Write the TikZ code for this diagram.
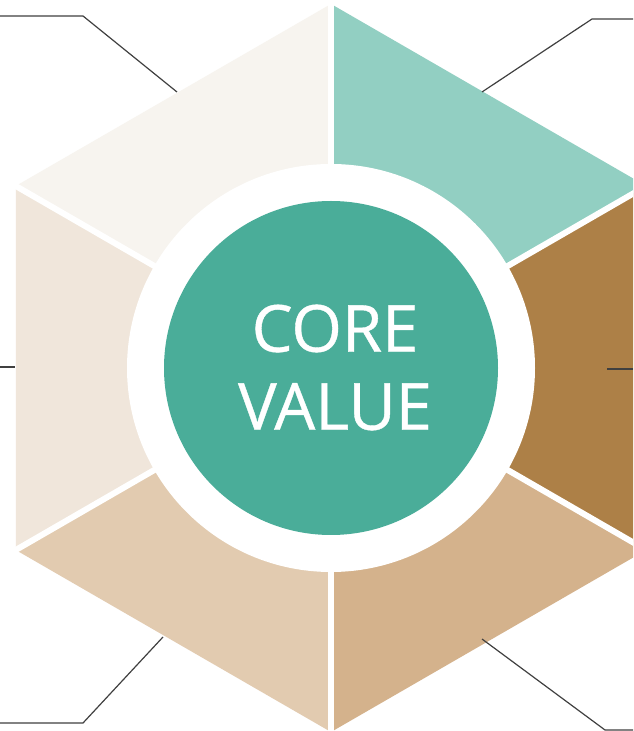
\documentclass[tikz,border=0pt]{standalone}
\usepackage{fontspec}
\setmainfont{Open Sans}
\newfontfamily\corefont{Open Sans}[FakeBold=0.6]
\usetikzlibrary{calc}
\definecolor{segTL}{HTML}{F7F4EF}
\definecolor{segTR}{HTML}{92CFC2}
\definecolor{segR}{HTML}{AD8047}
\definecolor{segBR}{HTML}{D4B28C}
\definecolor{segBL}{HTML}{E2CBB0}
\definecolor{segL}{HTML}{F0E6DB}
\definecolor{coreteal}{HTML}{4AAD99}
\definecolor{leader}{HTML}{404040}
\tikzset{
  gapline/.style={draw=white,line width=6pt,line cap=butt},
  leaderline/.style={draw=leader,line width=1.2pt},
  coretext/.style={text=white,align=center,font=\corefont\fontsize{65}{78}\selectfont,inner sep=0pt}
}
\begin{document}
\begin{tikzpicture}[x=1pt,y=1pt]
\useasboundingbox (0,0) rectangle (633,731);
\clip (0,0) rectangle (633,731);
\fill[white] (0,0) rectangle (633,731);
\coordinate (C) at (331,363);
\foreach \a/\n in {90/T,150/UL,210/LL,270/B,330/LR,30/UR}{
  \coordinate (\n) at ($(C)+(\a:364pt)$);
}
\fill[segTL] (C) -- (T) -- (UL) -- cycle;
\fill[segL] (C) -- (UL) -- (LL) -- cycle;
\fill[segBL] (C) -- (LL) -- (B) -- cycle;
\fill[segBR] (C) -- (B) -- (LR) -- cycle;
\fill[segR] (C) -- (LR) -- (UR) -- cycle;
\fill[segTR] (C) -- (UR) -- (T) -- cycle;
\foreach \n in {T,UL,LL,B,LR,UR}{
  \draw[gapline] (C) -- ($(C)!1.05!(\n)$);
}
\fill[white] (C) circle[radius=204pt];
\node[circle,fill=coreteal,minimum size=334pt,inner sep=0pt] (core) at (C) {};
\node[coretext] (label) at (335,363.5) {CORE\\VALUE};
% leader lines
\coordinate (tl1) at (0,715);
\coordinate (tl2) at (83,715);
\coordinate (tl3) at (177,639);
\draw[leaderline] (tl1) -- (tl2) -- (tl3);
\coordinate (tr1) at (482,639);
\coordinate (tr2) at (592,712);
\coordinate (tr3) at (633,712);
\draw[leaderline] (tr1) -- (tr2) -- (tr3);
\coordinate (l1) at (0,364);
\coordinate (l2) at (15,364);
\draw[leaderline] (l1) -- (l2);
\coordinate (r1) at (607,362);
\coordinate (r2) at (633,362);
\draw[leaderline] (r1) -- (r2);
\coordinate (bl1) at (0,8);
\coordinate (bl2) at (83,8);
\coordinate (bl3) at (163,94);
\draw[leaderline] (bl1) -- (bl2) -- (bl3);
\coordinate (br1) at (482,92);
\coordinate (br2) at (605,1);
\coordinate (br3) at (633,1);
\draw[leaderline] (br1) -- (br2) -- (br3);
\end{tikzpicture}
\end{document}
